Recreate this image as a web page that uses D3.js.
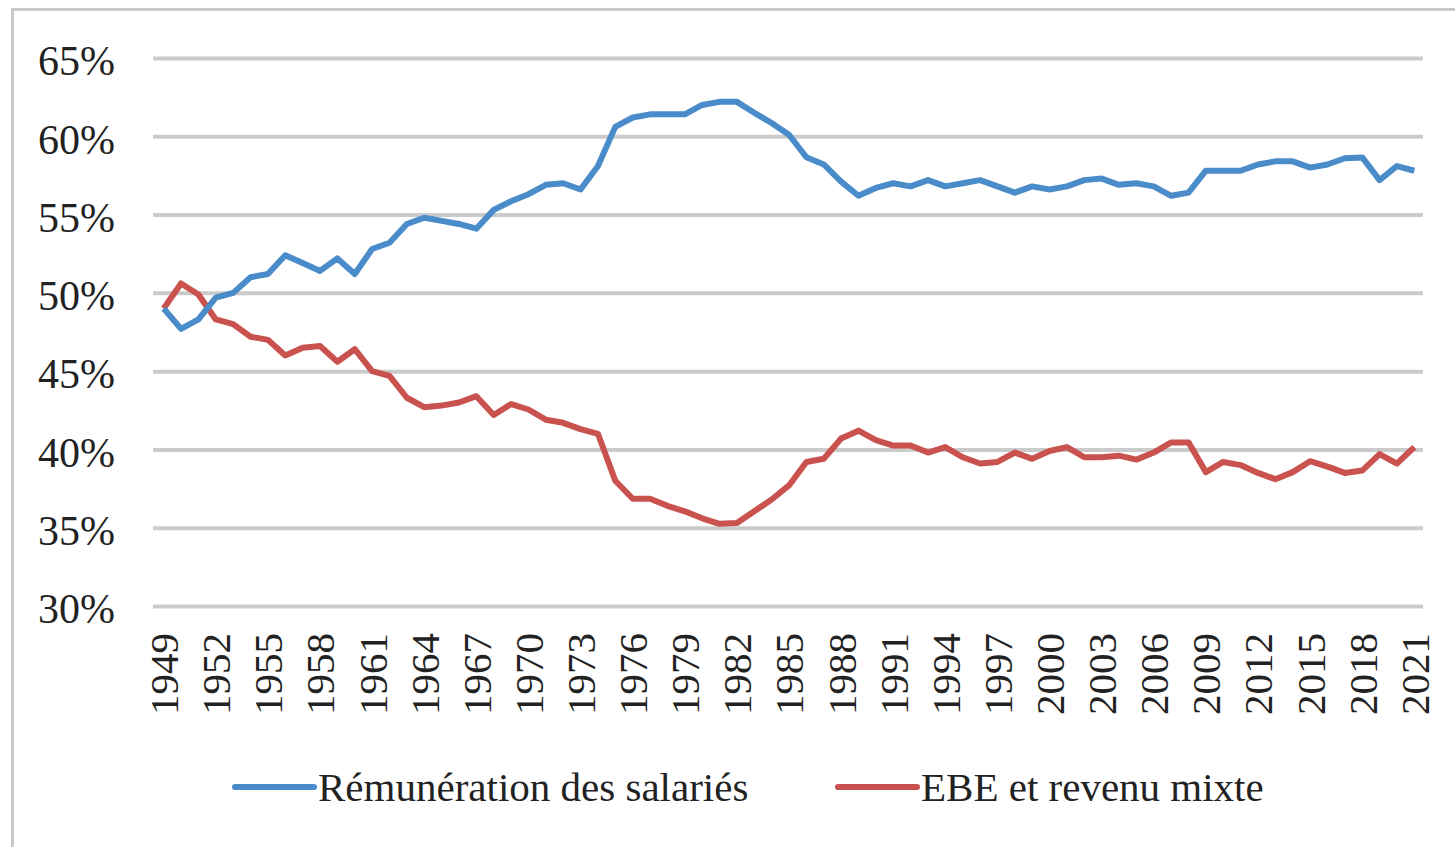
<!DOCTYPE html>
<html>
<head>
<meta charset="utf-8">
<script src="https://cdn.jsdelivr.net/npm/d3@7"></script>
<style>
  body { margin: 0; background: #fff; }
  svg { display: block; }
  text { font-family: "Liberation Serif", "Times New Roman", serif; fill: #222; }
</style>
</head>
<body>
<svg width="1455" height="847"></svg>
<script>
var years = d3.range(1949, 2022);

var tickYears = [1949, 1952, 1955, 1958, 1961, 1964, 1967, 1970, 1973, 1976, 1979, 1982,
    1985, 1988, 1991, 1994, 1997, 2000, 2003, 2006, 2009, 2012, 2015, 2018, 2021];

var yTicks = [30, 35, 40, 45, 50, 55, 60, 65];

// Rémunération des salariés (% of value added)
var salaires = [49.0, 47.7, 48.3, 49.7, 50.0, 51.0, 51.2, 52.4, 51.9, 51.4,
    52.2, 51.2, 52.8, 53.2, 54.4, 54.8, 54.6, 54.4, 54.1, 55.3,
    55.85, 56.3, 56.9, 57.0, 56.6, 58.1, 60.6, 61.2, 61.4, 61.4,
    61.4, 62.0, 62.2, 62.2, 61.5, 60.85, 60.1, 58.66, 58.2, 57.1,
    56.2, 56.7, 57.0, 56.8, 57.2, 56.8, 57.0, 57.2, 56.8, 56.4,
    56.8, 56.6, 56.8, 57.2, 57.3, 56.9, 57.0, 56.8, 56.2, 56.4,
    57.8, 57.8, 57.8, 58.2, 58.4, 58.4, 58.0, 58.2, 58.6, 58.65,
    57.2, 58.1, 57.8];

// EBE et revenu mixte
var ebe = [49.0, 50.6, 49.9, 48.3, 48.0, 47.2, 47.0, 46.0, 46.5, 46.6,
    45.6, 46.4, 45.0, 44.7, 43.3, 42.7, 42.8, 43.0, 43.4, 42.2,
    42.9, 42.55, 41.9, 41.7, 41.3, 41.0, 38.0, 36.85, 36.85, 36.4,
    36.05, 35.6, 35.25, 35.3, 36.05, 36.8, 37.7, 39.2, 39.4, 40.7,
    41.2, 40.6, 40.25, 40.25, 39.8, 40.15, 39.5, 39.1, 39.2, 39.8,
    39.4, 39.9, 40.15, 39.5, 39.5, 39.6, 39.35, 39.8, 40.45, 40.45,
    38.55, 39.2, 39.0, 38.5, 38.1, 38.55, 39.25, 38.9, 38.5, 38.65,
    39.7, 39.1, 40.15];

var series = [
    { name: "Rémunération des salariés", values: salaires, color: "#4a8bc9" },
    { name: "EBE et revenu mixte", values: ebe, color: "#c9524e" }
];

var svg = d3.select("svg");

// outer frame of the chart (cropped)
svg.append("path")
    .attr("d", "M12.5,847 L12.5,9.5 L1455,9.5")
    .attr("fill", "none")
    .attr("stroke", "#c8c8c8")
    .attr("stroke-width", 3);

var plotLeft = 153, plotRight = 1423;

var x = d3.scalePoint()
    .domain(years)
    .range([plotLeft + 2, plotRight])
    .padding(0.5);

var y = d3.scaleLinear()
    .domain([30, 65])
    .range([606, 58]);

// gridlines + y labels
var yAxis = svg.append("g")
    .attr("transform", "translate(" + plotLeft + ",0)")
    .call(d3.axisLeft(y)
        .tickValues(yTicks)
        .tickSize(-(plotRight - plotLeft))
        .tickPadding(38)
        .tickFormat(function(d) { return d + "%"; }));
yAxis.select(".domain").remove();
yAxis.selectAll("line")
    .attr("stroke", "#cbcbcb")
    .attr("stroke-width", 4);
yAxis.selectAll("text")
    .attr("font-size", 42)
    .attr("font-family", "Liberation Serif, serif")
    .attr("fill", "#333")
    .attr("dy", "0.4em");

// x labels, rotated
var xAxis = svg.append("g")
    .attr("transform", "translate(0,606)")
    .call(d3.axisBottom(x).tickValues(tickYears).tickSize(0).tickPadding(0));
xAxis.select(".domain").remove();
xAxis.selectAll("text")
    .attr("font-size", 41)
    .attr("font-family", "Liberation Serif, serif")
    .attr("fill", "#2a2a2a")
    .attr("text-anchor", "end")
    .attr("transform", "rotate(-90)")
    .attr("x", -27)
    .attr("y", 0)
    .attr("dy", "0.34em");

var line = d3.line()
    .x(function(d, i) { return x(years[i]); })
    .y(function(d) { return y(d); });

svg.selectAll(".serie")
    .data(series.slice().reverse())
    .enter().append("path")
    .attr("class", "serie")
    .attr("d", function(s) { return line(s.values); })
    .attr("fill", "none")
    .attr("stroke", function(s) { return s.color; })
    .attr("stroke-width", 6)
    .attr("stroke-linejoin", "round");

// legend
var legendX = [235, 838];
var legend = svg.selectAll(".legend")
    .data(series)
    .enter().append("g")
    .attr("class", "legend")
    .attr("transform", function(d, i) { return "translate(" + legendX[i] + ",787)"; });
legend.append("line")
    .attr("x1", 0).attr("x2", 79)
    .attr("stroke", function(d) { return d.color; })
    .attr("stroke-width", 6)
    .attr("stroke-linecap", "round");
legend.append("text")
    .attr("x", 83)
    .attr("dy", "0.33em")
    .attr("font-size", 41)
    .attr("fill", "#2a2a2a")
    .text(function(d) { return d.name; });
</script>
</body>
</html>
